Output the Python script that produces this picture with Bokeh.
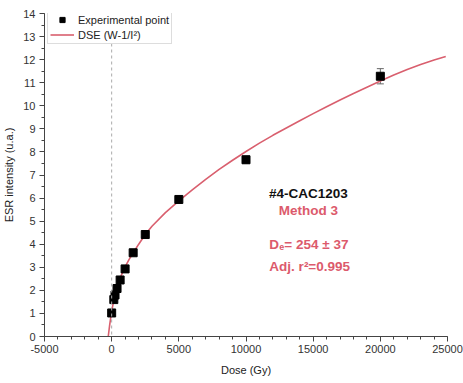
from bokeh.plotting import figure
from bokeh.models import (Range1d, SingleIntervalTicker, Span, Whisker, TeeHead,
                          ColumnDataSource, Label, Legend, LegendItem,
                          PrintfTickFormatter)
from bokeh.embed import file_html
from bokeh.resources import INLINE

# ---- data ----
dose = [0, 160, 250, 400, 630, 1000, 1600, 2500, 5000, 10000, 20000]
esr = [1.02, 1.60, 1.80, 2.08, 2.45, 2.93, 3.63, 4.42, 5.94, 7.66, 11.28]
esr_err = [0.05, 0.05, 0.05, 0.06, 0.07, 0.08, 0.08, 0.10, 0.13, 0.16, 0.33]

fit_dose = [-254, -200, -150, -100, -50, 0, 100, 250, 470, 700, 1000, 1300, 1600,
            2000, 2500, 3000, 4000, 5000, 6000, 7000, 8000, 9000, 10000, 11000,
            12000, 13000, 14000, 15000, 16000, 17000, 18000, 19000, 20000, 21000,
            22000, 23000, 24000, 24870]
fit_esr = [0.0, 0.26, 0.49, 0.70, 0.90, 1.08, 1.40, 1.78, 2.24, 2.63, 3.02, 3.34, 3.62,
           3.99, 4.42, 4.78, 5.37, 5.88, 6.36, 6.81, 7.24, 7.64, 8.02, 8.38,
           8.72, 9.04, 9.35, 9.66, 9.96, 10.25, 10.53, 10.80, 11.07, 11.33,
           11.57, 11.79, 11.98, 12.14]

x_ticks_interval = 5000
y_ticks_interval = 1

FONT = "Liberation Sans"
RED = "#d95f6e"
TXT_RED = "#dc5a6c"

p = figure(width=463, height=383, output_backend="svg", toolbar_location=None,
           x_range=Range1d(-5000, 25000), y_range=Range1d(0, 14),
           min_border_left=44, min_border_right=16, min_border_top=13,
           min_border_bottom=47)
p.outline_line_color = None
p.xgrid.visible = False
p.ygrid.visible = False
p.background_fill_color = "white"
p.border_fill_color = "white"

# axes
for ax in (p.xaxis[0], p.yaxis[0]):
    ax.axis_line_color = "#444444"
    ax.major_tick_line_color = "#444444"
    ax.minor_tick_line_color = "#444444"
    ax.major_tick_out = 5
    ax.major_tick_in = 0
    ax.minor_tick_out = 3
    ax.minor_tick_in = 0
    ax.major_label_text_font = FONT
    ax.major_label_text_font_size = "11px"
    ax.major_label_text_color = "#333333"
    ax.axis_label_text_font = FONT
    ax.axis_label_text_font_size = "11px"
    ax.axis_label_text_font_style = "normal"
    ax.axis_label_text_color = "#222222"

p.xaxis.ticker = SingleIntervalTicker(interval=x_ticks_interval, num_minor_ticks=5)
p.yaxis.ticker = SingleIntervalTicker(interval=y_ticks_interval, num_minor_ticks=2)
p.xaxis.formatter = PrintfTickFormatter(format="%d")
p.yaxis.formatter = PrintfTickFormatter(format="%d")
p.xaxis.axis_label = "Dose (Gy)"
p.yaxis.axis_label = "ESR intensity (u.a.)"
p.xaxis.major_label_standoff = 3
p.yaxis.major_label_standoff = 4
p.xaxis.axis_label_standoff = 8
p.yaxis.axis_label_standoff = 5

# zero line
p.add_layout(Span(location=0, dimension="height", line_color="#aaaaaa",
                  line_dash="3 3", line_width=1))

# fit curve
fit_r = p.line(fit_dose, fit_esr, line_color=RED, line_width=1.6)

# error bars
src = ColumnDataSource(dict(dose=dose, esr=esr,
                            upper=[v + e for v, e in zip(esr, esr_err)],
                            lower=[v - e for v, e in zip(esr, esr_err)]))
p.add_layout(Whisker(source=src, base="dose", upper="upper", lower="lower",
                     line_color="#666666", line_width=1, level="underlay",
                     upper_head=TeeHead(size=7, line_color="#666666"),
                     lower_head=TeeHead(size=7, line_color="#666666")))
pts_r = p.scatter("dose", "esr", source=src, marker="square", size=8,
                  fill_color="black", line_color="black")

legend = Legend(items=[LegendItem(label="Experimental point", renderers=[pts_r]),
                       LegendItem(label="DSE (W-1/I²)", renderers=[fit_r])],
                location=(3, 292), padding=2, spacing=2, margin=0,
                glyph_width=24, glyph_height=13, label_height=13,
                label_standoff=4, label_text_font=FONT,
                label_text_font_size="11px", label_text_color="#222222",
                border_line_color="#bbbbbb", border_line_width=1,
                background_fill_color="white", background_fill_alpha=1)
p.add_layout(legend)

# annotations
def lab(x, y, text, color, size="13.5px", align="left", xo=0, yo=0):
    p.add_layout(Label(x=x, y=y, text=text, text_font=FONT, text_font_size=size,
                       text_font_style="bold", text_color=color, text_align=align,
                       text_baseline="alphabetic", x_offset=xo, y_offset=yo))

lab(14640, 6.21, "#4-CAC1203", "#111111", align="center")
lab(14640, 5.47, "Method 3", TXT_RED, align="center")
lab(11740, 3.99, "D", TXT_RED)
lab(11740, 3.99, "e", TXT_RED, size="9px", xo=9.8, yo=-3)
lab(11740, 3.99, "= 254 ± 37", TXT_RED, xo=15)
lab(11740, 3.04, "Adj. r²=0.995", TXT_RED)

open("out.html", "w").write(file_html(p, INLINE))
